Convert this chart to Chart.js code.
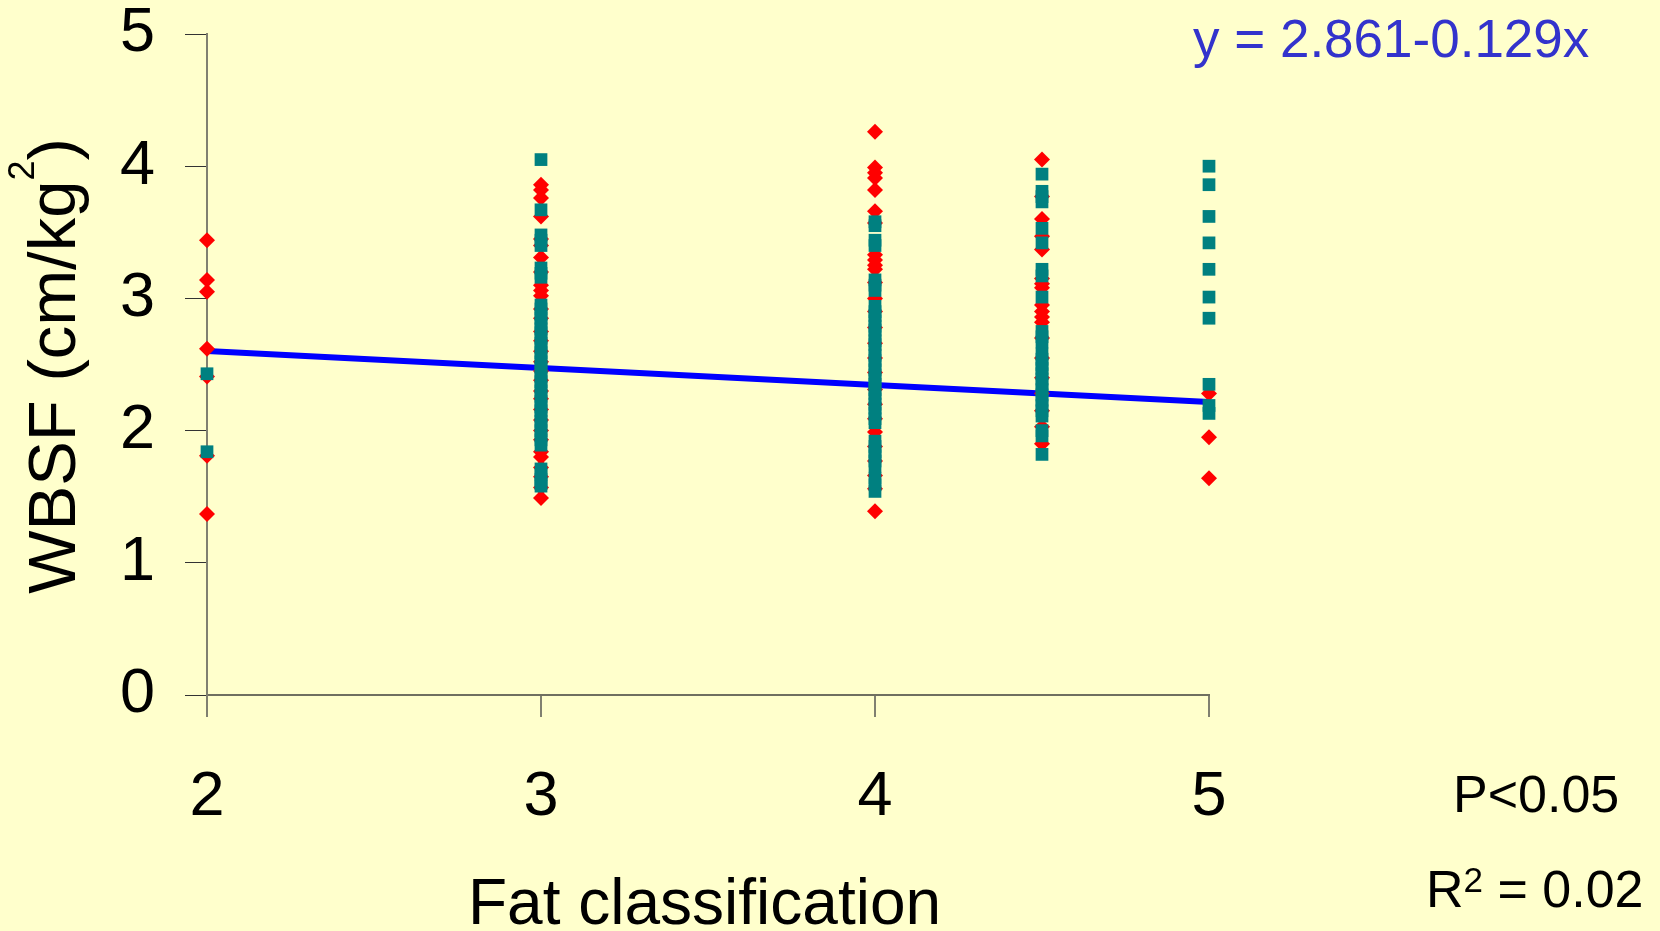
<!DOCTYPE html>
<html>
<head>
<meta charset="utf-8">
<title>WBSF vs fat classification</title>
<script src="https://cdn.jsdelivr.net/npm/chart.js@4.4.1/dist/chart.umd.min.js"></script>
<style>
  html, body { margin: 0; padding: 0; background: #ffffcc; }
  #chart { display: block; background: #ffffcc; }
</style>
</head>
<body>
<canvas id="chart" width="1660" height="931"></canvas>
<script>
// fat classes on the x axis
const fatClasses = [2, 3, 4, 4.5, 5];
const xTicks = [2, 3, 4, 5];
const yTicks = [0, 1, 2, 3, 4, 5];

// WBSF readings, red diamonds, one array per fat class
const red2 = [3.44, 3.14, 3.05, 2.62, 2.41, 1.81, 1.37];
const red3 = [3.86, 3.82, 3.76, 3.62, 3.45, 3.40, 3.31, 3.20, 3.10, 3.06, 3.02,
  2.92, 2.85, 2.75, 2.68, 2.60, 2.52, 2.45, 2.38, 2.30, 2.24, 2.16, 2.08, 2.00,
  1.93, 1.84, 1.80, 1.72, 1.65, 1.57, 1.49];
const red4 = [4.26, 3.99, 3.95, 3.91, 3.82, 3.66, 3.57, 3.33, 3.29, 3.25, 3.22,
  3.12, 3.00, 2.90, 2.78, 2.66, 2.55, 2.44, 2.31, 2.20, 2.09, 1.99, 1.88, 1.77,
  1.66, 1.56, 1.39];
const red45 = [4.05, 3.77, 3.60, 3.47, 3.37, 3.15, 3.11, 3.08, 2.95, 2.90, 2.86,
  2.82, 2.70, 2.55, 2.40, 2.28, 2.15, 2.03, 1.90];
const red5 = [2.28, 1.95, 1.64];

// WBSF readings, teal squares, one array per fat class
const teal2 = [2.43, 1.84];
const teal3 = [4.05, 3.67, 3.48, 3.44, 3.40, 3.23, 3.19, 3.16,
  2.95, 2.92, 2.88, 2.85, 2.81, 2.77, 2.74, 2.70, 2.66, 2.63, 2.59, 2.55, 2.52,
  2.48, 2.44, 2.41, 2.37, 2.33, 2.30, 2.26, 2.22, 2.18, 2.15, 2.11, 2.07, 2.04,
  2.00, 1.96, 1.93, 1.89, 1.71, 1.67, 1.63, 1.60, 1.58];
const teal4 = [3.58, 3.55, 3.44, 3.40, 3.14, 3.10, 3.06,
  2.94, 2.90, 2.87, 2.83, 2.79, 2.76, 2.72, 2.68, 2.65, 2.61, 2.57, 2.53, 2.50,
  2.46, 2.42, 2.39, 2.35, 2.31, 2.28, 2.24, 2.20, 2.17, 2.13, 2.09, 2.06,
  1.92, 1.88, 1.84, 1.81, 1.77, 1.73, 1.64, 1.59, 1.54];
const teal45 = [3.94, 3.81, 3.77, 3.73, 3.53, 3.42, 3.22, 3.17, 3.01, 2.75, 2.71,
  2.67, 2.58, 2.54, 2.50, 2.47, 2.43, 2.39, 2.35, 2.31, 2.27, 2.23, 2.19, 2.15,
  2.11, 2.00, 1.96, 1.82];
const teal5 = [4.00, 3.86, 3.62, 3.42, 3.22, 3.01, 2.85, 2.35, 2.19, 2.13];

// fitted line y = 2.861 - 0.129x
const trendIntercept = 2.861;
const trendSlope = -0.129;
const trendRange = [2, 5];

const FONT = "'Liberation Sans', Arial, sans-serif";

function toPoints(columns) {
  return fatClasses.flatMap((fc, i) => columns[i].map(v => ({ x: fc, y: v })));
}

function runWidth(ctx, parts) {
  let w = 0;
  parts.forEach(p => {
    ctx.font = p.size + 'px ' + FONT;
    w += ctx.measureText(p.text).width;
  });
  return w;
}

function drawRun(ctx, parts, x, y) {
  parts.forEach(p => {
    ctx.font = p.size + 'px ' + FONT;
    ctx.fillText(p.text, x, y - (p.rise || 0));
    x += ctx.measureText(p.text).width;
  });
}

// axis titles and the regression notes
const textPlugin = {
  id: 'textPlugin',
  afterDraw(chart) {
    const ctx = chart.ctx;
    ctx.save();
    ctx.textBaseline = 'alphabetic';
    ctx.textAlign = 'left';
    ctx.fillStyle = '#000000';

    const yTitle = [
      { text: 'WBSF (cm/kg', size: 67 },
      { text: '2', size: 36, rise: 41 },
      { text: ')', size: 67 }
    ];
    ctx.save();
    ctx.translate(75, 366);
    ctx.rotate(-Math.PI / 2);
    drawRun(ctx, yTitle, -runWidth(ctx, yTitle) / 2, 0);
    ctx.restore();

    drawRun(ctx, [{ text: 'Fat classification', size: 64 }], 468, 924);
    drawRun(ctx, [{ text: 'P<0.05', size: 52 }], 1453, 812);
    drawRun(ctx, [
      { text: 'R', size: 52 },
      { text: '2', size: 35, rise: 15 },
      { text: ' = 0.02', size: 52 }
    ], 1426, 907);

    ctx.fillStyle = '#3333cc';
    drawRun(ctx, [{ text: 'y = 2.861-0.129x', size: 53 }], 1193, 57);
    ctx.restore();
  }
};

const ctx = document.getElementById('chart').getContext('2d');
new Chart(ctx, {
  type: 'scatter',
  data: {
    datasets: [
      {
        label: 'teal',
        data: toPoints([teal2, teal3, teal4, teal45, teal5]),
        pointStyle: 'rect',
        pointRadius: 9,
        pointBackgroundColor: '#008080',
        pointBorderWidth: 0,
        clip: false,
        order: 0
      },
      {
        label: 'red',
        data: toPoints([red2, red3, red4, red45, red5]),
        pointStyle: 'rectRot',
        pointRadius: 8,
        pointBackgroundColor: '#ff0000',
        pointBorderWidth: 0,
        clip: false,
        order: 1
      },
      {
        type: 'line',
        label: 'trend',
        data: trendRange.map(x => ({ x: x, y: trendIntercept + trendSlope * x })),
        borderColor: '#0000ff',
        borderWidth: 6,
        pointRadius: 0,
        fill: false,
        clip: false,
        order: 2
      }
    ]
  },
  options: {
    responsive: false,
    animation: false,
    devicePixelRatio: 1,
    layout: { padding: { top: 34, right: 451, bottom: 0, left: 0 } },
    plugins: {
      legend: { display: false },
      tooltip: { enabled: false }
    },
    scales: {
      x: {
        type: 'linear',
        min: 2,
        max: 5,
        afterFit: scale => {
          scale.height = 236;
          scale.paddingLeft = 0;
          scale.paddingRight = 0;
        },
        afterBuildTicks: scale => { scale.ticks = xTicks.map(v => ({ value: v })); },
        ticks: {
          color: '#000000',
          padding: 49,
          autoSkip: false,
          maxRotation: 0,
          font: { family: FONT, size: 63, lineHeight: 1 }
        },
        grid: {
          drawOnChartArea: false,
          drawTicks: true,
          tickLength: 22,
          color: '#808070',
          lineWidth: 2
        },
        border: { color: '#6f6f60', width: 2 }
      },
      y: {
        min: 0,
        max: 5,
        afterFit: scale => {
          scale.width = 207;
          scale.paddingTop = 30;
          scale.paddingBottom = 30;
        },
        afterBuildTicks: scale => { scale.ticks = yTicks.map(v => ({ value: v })); },
        ticks: {
          color: '#000000',
          padding: 30,
          font: { family: FONT, size: 63, lineHeight: 1 }
        },
        grid: {
          drawOnChartArea: false,
          drawTicks: true,
          tickLength: 22,
          color: '#333333',
          lineWidth: 1
        },
        border: { color: '#808070', width: 2 }
      }
    }
  },
  plugins: [textPlugin]
});
</script>
</body>
</html>
